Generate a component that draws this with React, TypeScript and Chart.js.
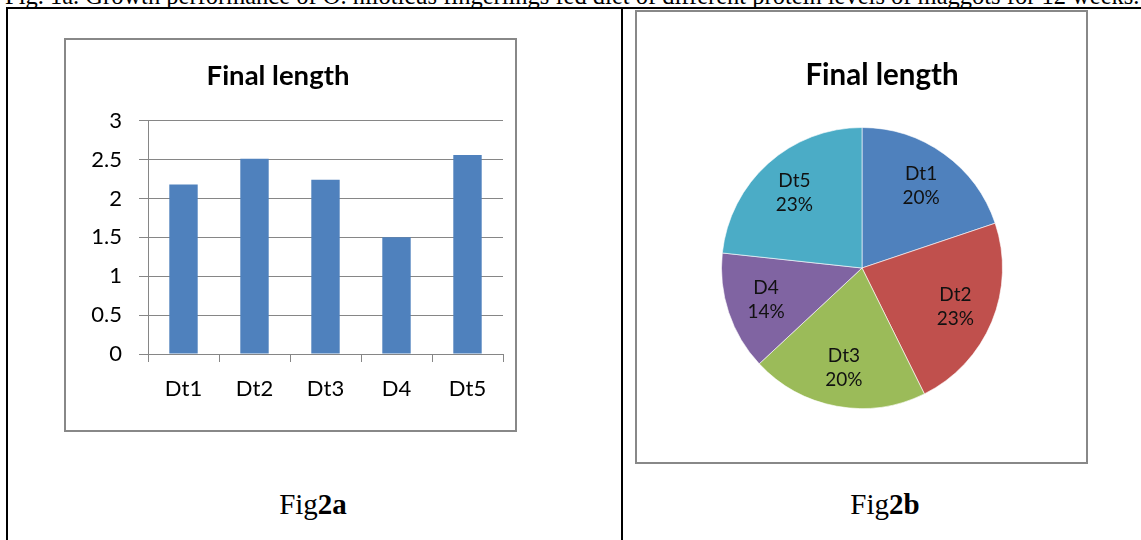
import React, { useEffect, useRef } from "react";
import { Chart, registerables } from "chart.js";

Chart.register(...registerables);

// Final length per diet
const categories = ["Dt1", "Dt2", "Dt3", "D4", "Dt5"];
const finalLength = [2.18, 2.51, 2.24, 1.5, 2.56];
const yAxisMin = 0;
const yAxisMax = 3;
const yAxisStep = 0.5;

const barColor = "#4F81BD";
const sliceColors = ["#4F81BD", "#C0504D", "#9BBB59", "#8064A2", "#4BACC6"];

const chartTitle = "Final length";
const topCaption =
  "Fig. 1a. Growth performance of O. niloticus fingerlings fed diet of different protein levels of maggots for 12 weeks.";

const SANS = "Lato, 'Open Sans', sans-serif";
const SERIF = "'Liberation Serif', 'Times New Roman', serif";
const GRID = "#868686";

// Two-line "name / percent" labels inside each pie slice
const pieLabels = {
  id: "pieLabels",
  afterDatasetsDraw(chart: any) {
    const meta = chart.getDatasetMeta(0);
    const values: number[] = chart.data.datasets[0].data;
    const total = values.reduce((a, b) => a + b, 0);
    const ctx = chart.ctx;
    ctx.save();
    ctx.font = `19px ${SANS}`;
    ctx.fillStyle = "#111";
    ctx.textAlign = "center";
    ctx.textBaseline = "middle";
    meta.data.forEach((arc: any, i: number) => {
      const p = arc.getProps(["x", "y", "startAngle", "endAngle", "outerRadius"], true);
      const mid = (p.startAngle + p.endAngle) / 2;
      const r = p.outerRadius * 0.72;
      const lx = p.x + Math.cos(mid) * r;
      const ly = p.y + Math.sin(mid) * r;
      const pct = Math.round((values[i] / total) * 100) + "%";
      ctx.fillText(chart.data.labels[i], lx, ly - 12);
      ctx.fillText(pct, lx, ly + 12);
    });
    ctx.restore();
  },
};

function BarPanel() {
  const ref = useRef<HTMLCanvasElement>(null);
  useEffect(() => {
    if (!ref.current) return;
    const font = { family: SANS, size: 22 };
    const chart = new Chart(ref.current, {
      type: "bar",
      data: {
        labels: categories,
        datasets: [
          {
            data: finalLength,
            backgroundColor: barColor,
            barPercentage: 0.4,
            categoryPercentage: 1,
          },
        ],
      },
      options: {
        animation: false,
        responsive: false,
        maintainAspectRatio: false,
        layout: { padding: { left: 0, right: 12, top: 80.7, bottom: 16 } },
        plugins: {
          legend: { display: false },
          tooltip: { enabled: false },
          title: { display: false },
        },
        scales: {
          x: {
            grid: {
              drawOnChartArea: false,
              drawTicks: true,
              tickLength: 8,
              color: GRID,
              offset: true,
            },
            border: { display: true, color: GRID },
            ticks: { font, color: "#000", padding: 14 },
            afterFit: (s: any) => {
              s.height = 60;
            },
          },
          y: {
            min: yAxisMin,
            max: yAxisMax,
            ticks: {
              stepSize: yAxisStep,
              font,
              color: "#000",
              padding: 17,
              callback: (v: any) => String(Number(v)),
            },
            grid: { color: GRID, tickLength: 9 },
            border: { display: true, color: GRID },
            afterFit: (s: any) => {
              s.width = 82;
            },
          },
        },
      } as any,
    });
    return () => chart.destroy();
  }, []);
  return (
    <canvas
      ref={ref}
      width={449}
      height={390}
      style={{ position: "absolute", left: 66, top: 40, width: 449, height: 390 }}
    />
  );
}

function PiePanel() {
  const ref = useRef<HTMLCanvasElement>(null);
  useEffect(() => {
    if (!ref.current) return;
    const chart = new Chart(ref.current, {
      type: "pie",
      data: {
        labels: categories,
        datasets: [
          {
            data: finalLength,
            backgroundColor: sliceColors,
            borderColor: "rgba(255,255,255,0.6)",
            borderWidth: 1,
          },
        ],
      },
      options: {
        animation: false,
        responsive: false,
        maintainAspectRatio: false,
        layout: { padding: { left: 84, right: 83, top: 115, bottom: 53 } },
        plugins: {
          legend: { display: false },
          tooltip: { enabled: false },
          title: { display: false },
        },
      } as any,
      plugins: [pieLabels],
    });
    return () => chart.destroy();
  }, []);
  return (
    <canvas
      ref={ref}
      width={449}
      height={450}
      style={{ position: "absolute", left: 637, top: 12, width: 449, height: 450 }}
    />
  );
}

const titleStyle = (cx: number, size: number): React.CSSProperties => ({
  position: "absolute",
  left: cx - 150,
  top: 75 - 18.9 * (size / 30) - 0.3,
  width: 300,
  textAlign: "center",
  fontFamily: SANS,
  fontWeight: 700,
  fontSize: size,
  lineHeight: "36px",
  color: "#000",
});

const captionStyle = (cx: number): React.CSSProperties => ({
  position: "absolute",
  left: cx - 100,
  top: 487,
  width: 200,
  textAlign: "center",
  fontFamily: SERIF,
  fontSize: 29,
  lineHeight: "34px",
  color: "#000",
});

export default function App() {
  return (
    <div
      style={{
        position: "absolute",
        left: 0,
        top: 0,
        width: 1141,
        height: 540,
        overflow: "hidden",
        background: "#fff",
      }}
    >
      <div
        style={{
          position: "absolute",
          left: 5,
          top: -17,
          whiteSpace: "nowrap",
          fontFamily: SERIF,
          fontSize: 24.5,
          lineHeight: "26px",
          color: "#000",
        }}
      >
        {topCaption}
      </div>
      {/* table frame */}
      <div
        style={{
          position: "absolute",
          left: 6,
          top: 7,
          width: 1200,
          height: 600,
          borderLeft: "2px solid #000",
          borderTop: "2px solid #000",
        }}
      />
      <div style={{ position: "absolute", left: 621, top: 7, width: 2, height: 600, background: "#000" }} />

      {/* chart frames */}
      <div
        style={{
          position: "absolute",
          left: 64,
          top: 38,
          width: 453,
          height: 394,
          boxSizing: "border-box",
          border: "2px solid #888",
        }}
      />
      <div
        style={{
          position: "absolute",
          left: 635,
          top: 10,
          width: 453,
          height: 454,
          boxSizing: "border-box",
          border: "2px solid #888",
        }}
      />

      <BarPanel />
      <PiePanel />

      <div style={titleStyle(278, 27.5)}>{chartTitle}</div>
      <div style={titleStyle(882, 29.5)}>{chartTitle}</div>

      <div style={captionStyle(313)}>
        Fig<b>2a</b>
      </div>
      <div style={captionStyle(885)}>
        Fig<b>2b</b>
      </div>
    </div>
  );
}
